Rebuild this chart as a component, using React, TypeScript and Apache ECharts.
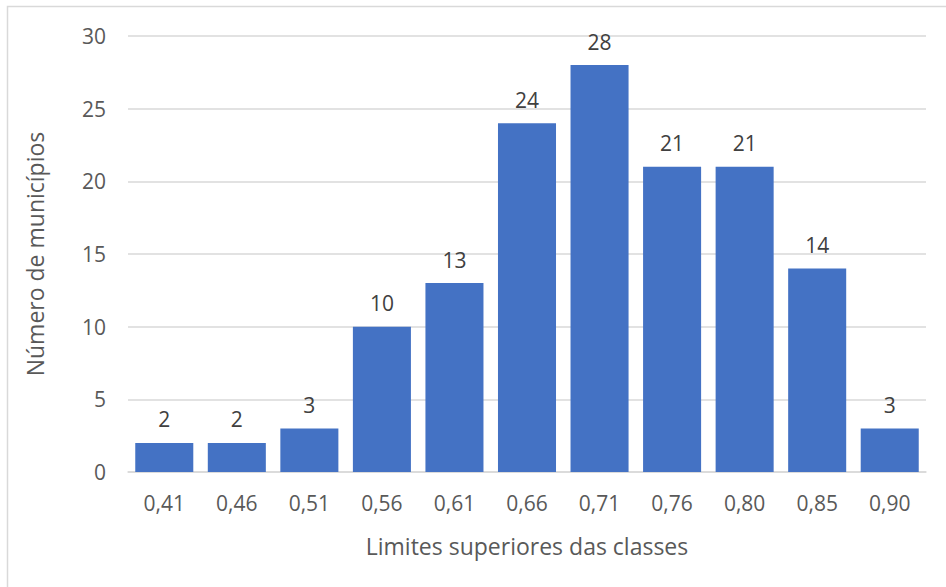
import React, { useEffect, useRef } from "react";
import * as echarts from "echarts";

const categories = ["0,41", "0,46", "0,51", "0,56", "0,61", "0,66", "0,71", "0,76", "0,80", "0,85", "0,90"];
const counts = [2, 2, 3, 10, 13, 24, 28, 21, 21, 14, 3];
const xTitle = "Limites superiores das classes";
const yTitle = "Número de municípios";

const FONT = "'Open Sans', sans-serif";

export default function App() {
  const ref = useRef<HTMLDivElement>(null);
  useEffect(() => {
    if (!ref.current) return;
    const chart = echarts.init(ref.current, undefined, { renderer: "svg" });
    chart.setOption({
      animation: false,
      backgroundColor: "#ffffff",
      textStyle: { fontFamily: FONT },
      graphic: [
        {
          type: "rect",
          shape: { x: 7.5, y: 6.5, width: 2000, height: 2000 },
          style: { fill: "none", stroke: "#D9D9D9", lineWidth: 1.5 },
          silent: true,
        },
      ],
      grid: { left: 128, right: 20, top: 36, bottom: 115, containLabel: false },
      xAxis: {
        type: "category",
        data: categories,
        name: xTitle,
        nameLocation: "middle",
        nameGap: 62,
        nameTextStyle: { fontFamily: FONT, fontSize: 23, color: "#595959" },
        axisLine: { show: true, lineStyle: { color: "#D9D9D9", width: 1.5 } },
        axisTick: { show: false },
        axisLabel: { margin: 20, fontFamily: FONT, fontSize: 21, color: "#595959" },
      },
      yAxis: {
        type: "value",
        min: 0,
        max: 30,
        interval: 5,
        name: yTitle,
        nameLocation: "middle",
        nameGap: 82,
        nameTextStyle: { fontFamily: FONT, fontSize: 23, color: "#595959" },
        axisLine: { show: false },
        axisTick: { show: false },
        axisLabel: { margin: 22, fontFamily: FONT, fontSize: 21, color: "#595959" },
        splitLine: { lineStyle: { color: "#D9D9D9", width: 1.5 } },
      },
      series: [
        {
          type: "bar",
          data: counts,
          barCategoryGap: "20%",
          itemStyle: { color: "#4472C4" },
          label: {
            show: true,
            position: "top",
            distance: 13,
            fontFamily: FONT,
            fontSize: 21,
            color: "#404040",
          },
        },
      ],
    });
    return () => chart.dispose();
  }, []);
  return (
    <div
      ref={ref}
      style={{ position: "absolute", left: 0, top: 0, width: 946, height: 587 }}
    />
  );
}
